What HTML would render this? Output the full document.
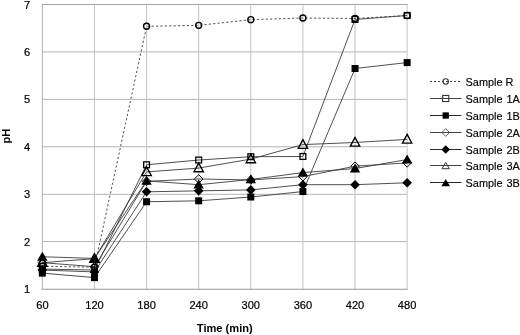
<!DOCTYPE html>
<html><head><meta charset="utf-8"><title>chart</title>
<style>
html,body{margin:0;padding:0;background:#fff;}
body{width:520px;height:335px;overflow:hidden;font-family:"Liberation Sans",sans-serif;}
svg{display:block;filter:grayscale(100%);}
text{font-family:"Liberation Sans",sans-serif;fill:#000;}
.t{font-size:11.1px;stroke:#000;stroke-width:0.2px;}
.b{font-size:11.1px;font-weight:bold;}
.l{font-size:10.9px;stroke:#000;stroke-width:0.15px;}
</style></head><body>
<svg width="520" height="335" viewBox="0 0 520 335">
<rect width="520" height="335" fill="#fff"/>
<g stroke-width="1"><line x1="42.35" x2="407.15" y1="241.60" y2="241.60" stroke="#b4b4b4"/><line x1="42.35" x2="407.15" y1="194.30" y2="194.30" stroke="#b4b4b4"/><line x1="42.35" x2="407.15" y1="146.80" y2="146.80" stroke="#b4b4b4"/><line x1="42.35" x2="407.15" y1="99.35" y2="99.35" stroke="#b4b4b4"/><line x1="42.35" x2="407.15" y1="51.95" y2="51.95" stroke="#b4b4b4"/><line x1="94.46" x2="94.46" y1="4.5" y2="289.25" stroke="#c2c2c2"/><line x1="146.58" x2="146.58" y1="4.5" y2="289.25" stroke="#c2c2c2"/><line x1="198.69" x2="198.69" y1="4.5" y2="289.25" stroke="#c2c2c2"/><line x1="250.81" x2="250.81" y1="4.5" y2="289.25" stroke="#c2c2c2"/><line x1="302.92" x2="302.92" y1="4.5" y2="289.25" stroke="#c2c2c2"/><line x1="355.04" x2="355.04" y1="4.5" y2="289.25" stroke="#c2c2c2"/></g>
<g stroke-width="1" fill="none"><line x1="407.15" x2="407.15" y1="4.5" y2="289.25" stroke="#c6c6c6"/><line x1="41.85" x2="407.65" y1="4.5" y2="4.5" stroke="#a6a6a6"/><line x1="42.35" x2="42.35" y1="4.5" y2="289.25" stroke="#b0b0b0"/><line x1="41.85" x2="407.65" y1="289.25" y2="289.25" stroke="#999"/></g>
<text class="t" x="27" y="293.0" text-anchor="middle">1</text><text class="t" x="27" y="245.6" text-anchor="middle">2</text><text class="t" x="27" y="198.2" text-anchor="middle">3</text><text class="t" x="27" y="150.8" text-anchor="middle">4</text><text class="t" x="27" y="103.3" text-anchor="middle">5</text><text class="t" x="27" y="55.9" text-anchor="middle">6</text><text class="t" x="27" y="8.5" text-anchor="middle">7</text>
<text class="t" x="42.4" y="309.2" text-anchor="middle">60</text><text class="t" x="94.5" y="309.2" text-anchor="middle">120</text><text class="t" x="146.6" y="309.2" text-anchor="middle">180</text><text class="t" x="198.7" y="309.2" text-anchor="middle">240</text><text class="t" x="250.8" y="309.2" text-anchor="middle">300</text><text class="t" x="302.9" y="309.2" text-anchor="middle">360</text><text class="t" x="355.0" y="309.2" text-anchor="middle">420</text><text class="t" x="407.1" y="309.2" text-anchor="middle">480</text>
<text class="b" x="224.8" y="332" text-anchor="middle">Time (min)</text>
<text class="b" transform="translate(9.9 136.2) rotate(-90)" text-anchor="middle">pH</text>
<polyline points="42.35,266.24 94.46,267.19 146.58,26.31 198.69,25.36 250.81,19.67 302.92,18.01 355.04,18.49 407.15,15.50" fill="none" stroke="#3c3c3c" stroke-width="0.9" stroke-dasharray="2.2 2.2"/>
<polyline points="42.35,269.08 94.46,270.03 146.58,164.77 198.69,160.03 250.81,156.71 302.92,156.47 355.04,19.44 407.15,15.50" fill="none" stroke="#3c3c3c" stroke-width="0.9"/>
<polyline points="42.35,273.12 94.46,277.62 146.58,201.75 198.69,200.81 250.81,197.01 302.92,191.56 355.04,68.51 407.15,62.59" fill="none" stroke="#3c3c3c" stroke-width="0.9"/>
<polyline points="42.35,262.68 94.46,266.71 146.58,181.36 198.69,178.99 250.81,179.94 302.92,176.62 355.04,166.19 407.15,162.87" fill="none" stroke="#3c3c3c" stroke-width="0.9"/>
<polyline points="42.35,270.03 94.46,271.93 146.58,191.80 198.69,190.85 250.81,189.90 302.92,184.68 355.04,184.68 407.15,182.79" fill="none" stroke="#3c3c3c" stroke-width="0.9"/>
<polyline points="42.35,262.68 94.46,258.65 146.58,171.88 198.69,168.09 250.81,159.08 302.92,144.62 355.04,142.48 407.15,139.40" fill="none" stroke="#3c3c3c" stroke-width="0.9"/>
<polyline points="42.35,256.76 94.46,258.42 146.58,180.89 198.69,184.68 250.81,179.47 302.92,172.59 355.04,168.56 407.15,159.55" fill="none" stroke="#3c3c3c" stroke-width="0.9"/>
<g><circle cx="42.35" cy="266.24" r="3.00" fill="none" stroke="#000" stroke-width="1.40"/><circle cx="94.46" cy="267.19" r="3.00" fill="none" stroke="#000" stroke-width="1.40"/><circle cx="146.58" cy="26.31" r="3.00" fill="none" stroke="#000" stroke-width="1.40"/><circle cx="198.69" cy="25.36" r="3.00" fill="none" stroke="#000" stroke-width="1.40"/><circle cx="250.81" cy="19.67" r="3.00" fill="none" stroke="#000" stroke-width="1.40"/><circle cx="302.92" cy="18.01" r="3.00" fill="none" stroke="#000" stroke-width="1.40"/><circle cx="355.04" cy="18.49" r="3.00" fill="none" stroke="#000" stroke-width="1.40"/><circle cx="407.15" cy="15.50" r="3.00" fill="none" stroke="#000" stroke-width="1.40"/></g>
<g><rect x="39.45" y="266.19" width="5.80" height="5.80" fill="none" stroke="#000" stroke-width="1.30"/><rect x="91.56" y="267.13" width="5.80" height="5.80" fill="none" stroke="#000" stroke-width="1.30"/><rect x="143.68" y="161.87" width="5.80" height="5.80" fill="none" stroke="#000" stroke-width="1.30"/><rect x="195.79" y="157.13" width="5.80" height="5.80" fill="none" stroke="#000" stroke-width="1.30"/><rect x="247.91" y="153.81" width="5.80" height="5.80" fill="none" stroke="#000" stroke-width="1.30"/><rect x="300.02" y="153.57" width="5.80" height="5.80" fill="none" stroke="#000" stroke-width="1.30"/><rect x="352.14" y="16.54" width="5.80" height="5.80" fill="none" stroke="#000" stroke-width="1.30"/><rect x="404.25" y="12.60" width="5.80" height="5.80" fill="none" stroke="#000" stroke-width="1.30"/></g>
<g><rect x="38.85" y="269.62" width="7.00" height="7.00" fill="#000"/><rect x="90.96" y="274.12" width="7.00" height="7.00" fill="#000"/><rect x="143.08" y="198.25" width="7.00" height="7.00" fill="#000"/><rect x="195.19" y="197.31" width="7.00" height="7.00" fill="#000"/><rect x="247.31" y="193.51" width="7.00" height="7.00" fill="#000"/><rect x="299.42" y="188.06" width="7.00" height="7.00" fill="#000"/><rect x="351.54" y="65.01" width="7.00" height="7.00" fill="#000"/><rect x="403.65" y="59.09" width="7.00" height="7.00" fill="#000"/></g>
<g><path d="M42.35 258.38L46.65 262.68L42.35 266.98L38.05 262.68Z" fill="none" stroke="#000" stroke-width="1.00"/><path d="M94.46 262.41L98.76 266.71L94.46 271.01L90.16 266.71Z" fill="none" stroke="#000" stroke-width="1.00"/><path d="M146.58 177.06L150.88 181.36L146.58 185.66L142.28 181.36Z" fill="none" stroke="#000" stroke-width="1.00"/><path d="M198.69 174.69L202.99 178.99L198.69 183.29L194.39 178.99Z" fill="none" stroke="#000" stroke-width="1.00"/><path d="M250.81 175.64L255.11 179.94L250.81 184.24L246.51 179.94Z" fill="none" stroke="#000" stroke-width="1.00"/><path d="M302.92 172.32L307.22 176.62L302.92 180.92L298.62 176.62Z" fill="none" stroke="#000" stroke-width="1.00"/><path d="M355.04 161.89L359.34 166.19L355.04 170.49L350.74 166.19Z" fill="none" stroke="#000" stroke-width="1.00"/><path d="M407.15 158.57L411.45 162.87L407.15 167.17L402.85 162.87Z" fill="none" stroke="#000" stroke-width="1.00"/></g>
<g><path d="M42.35 265.23L47.15 270.03L42.35 274.83L37.55 270.03Z" fill="#000"/><path d="M94.46 267.13L99.26 271.93L94.46 276.73L89.66 271.93Z" fill="#000"/><path d="M146.58 187.00L151.38 191.80L146.58 196.60L141.78 191.80Z" fill="#000"/><path d="M198.69 186.05L203.49 190.85L198.69 195.65L193.89 190.85Z" fill="#000"/><path d="M250.81 185.10L255.61 189.90L250.81 194.70L246.01 189.90Z" fill="#000"/><path d="M302.92 179.88L307.72 184.68L302.92 189.48L298.12 184.68Z" fill="#000"/><path d="M355.04 179.88L359.84 184.68L355.04 189.48L350.24 184.68Z" fill="#000"/><path d="M407.15 177.99L411.95 182.79L407.15 187.59L402.35 182.79Z" fill="#000"/></g>
<g><path d="M42.35 257.68L47.05 266.38L37.65 266.38Z" fill="none" stroke="#000" stroke-width="1.35" stroke-linejoin="miter"/><path d="M94.46 253.65L99.16 262.35L89.76 262.35Z" fill="none" stroke="#000" stroke-width="1.35" stroke-linejoin="miter"/><path d="M146.58 166.88L151.28 175.58L141.88 175.58Z" fill="none" stroke="#000" stroke-width="1.35" stroke-linejoin="miter"/><path d="M198.69 163.09L203.39 171.79L193.99 171.79Z" fill="none" stroke="#000" stroke-width="1.35" stroke-linejoin="miter"/><path d="M250.81 154.08L255.51 162.78L246.11 162.78Z" fill="none" stroke="#000" stroke-width="1.35" stroke-linejoin="miter"/><path d="M302.92 139.62L307.62 148.32L298.22 148.32Z" fill="none" stroke="#000" stroke-width="1.35" stroke-linejoin="miter"/><path d="M355.04 137.48L359.74 146.18L350.34 146.18Z" fill="none" stroke="#000" stroke-width="1.35" stroke-linejoin="miter"/><path d="M407.15 134.40L411.85 143.10L402.45 143.10Z" fill="none" stroke="#000" stroke-width="1.35" stroke-linejoin="miter"/></g>
<g><path d="M42.35 251.66L47.55 260.66L37.15 260.66Z" fill="#000"/><path d="M94.46 253.32L99.66 262.32L89.26 262.32Z" fill="#000"/><path d="M146.58 175.79L151.78 184.79L141.38 184.79Z" fill="#000"/><path d="M198.69 179.58L203.89 188.58L193.49 188.58Z" fill="#000"/><path d="M250.81 174.37L256.01 183.37L245.61 183.37Z" fill="#000"/><path d="M302.92 167.49L308.12 176.49L297.72 176.49Z" fill="#000"/><path d="M355.04 163.46L360.24 172.46L349.84 172.46Z" fill="#000"/><path d="M407.15 154.45L412.35 163.45L401.95 163.45Z" fill="#000"/></g>
<line x1="430" x2="461.5" y1="81.5" y2="81.5" stroke="#444" stroke-width="1" stroke-dasharray="2 2"/><circle cx="445.70" cy="81.50" r="2.70" fill="none" stroke="#333" stroke-width="1.07"/><text class="l" x="465.6" y="85.7">Sample R</text>
<line x1="430" x2="461.5" y1="98.5" y2="98.5" stroke="#444" stroke-width="1"/><rect x="442.65" y="95.45" width="6.09" height="6.09" fill="none" stroke="#333" stroke-width="1.09"/><text class="l" x="465.6" y="102.7" word-spacing="1">Sample 1A</text>
<line x1="430" x2="461.5" y1="115.5" y2="115.5" stroke="#2a2a2a" stroke-width="1"/><rect x="442.55" y="112.35" width="6.30" height="6.30" fill="#000"/><text class="l" x="465.6" y="119.7" word-spacing="1">Sample 1B</text>
<line x1="430" x2="461.5" y1="132.5" y2="132.5" stroke="#444" stroke-width="1"/><path d="M445.70 128.63L449.57 132.50L445.70 136.37L441.83 132.50Z" fill="none" stroke="#333" stroke-width="0.77"/><text class="l" x="465.6" y="136.7" word-spacing="1">Sample 2A</text>
<line x1="430" x2="461.5" y1="149.5" y2="149.5" stroke="#2a2a2a" stroke-width="1"/><path d="M445.70 145.18L450.02 149.50L445.70 153.82L441.38 149.50Z" fill="#000"/><text class="l" x="465.6" y="153.7" word-spacing="1">Sample 2B</text>
<line x1="430" x2="461.5" y1="165.5" y2="165.5" stroke="#444" stroke-width="1"/><path d="M445.7 162.40L449.4 168.70L442.0 168.70Z" fill="none" stroke="#333" stroke-width="1"/><text class="l" x="465.6" y="169.7" word-spacing="1">Sample 3A</text>
<line x1="430" x2="461.5" y1="182.5" y2="182.5" stroke="#2a2a2a" stroke-width="1"/><path d="M445.7 178.90L450.1 186.20L441.3 186.20Z" fill="#000"/><text class="l" x="465.6" y="186.7" word-spacing="1">Sample 3B</text>
</svg>
</body></html>
